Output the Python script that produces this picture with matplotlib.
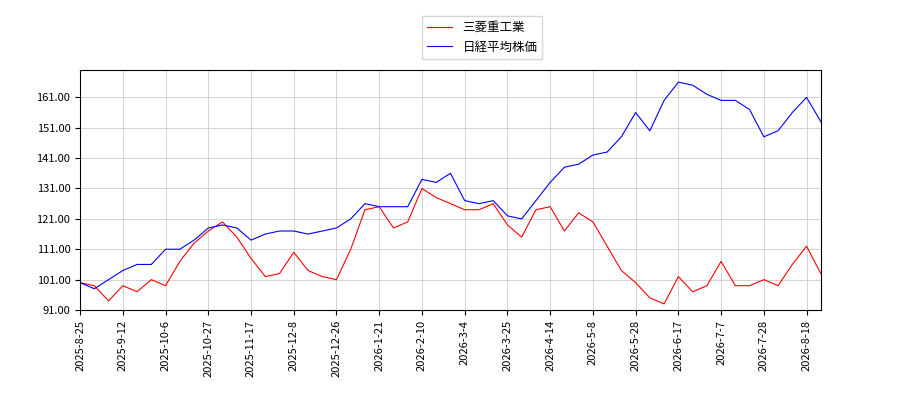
import matplotlib
matplotlib.use("Agg")
import matplotlib.pyplot as plt

plt.rcParams['font.family'] = ['Noto Sans CJK JP', 'DejaVu Sans']

# weekly samples (every 5 trading days)
mhi = [100, 99, 94, 99, 97, 101, 99, 107, 113, 117, 120, 115, 108, 102, 103, 110, 104, 102,
       101, 111, 124, 125, 118, 120, 131, 128, 126, 124, 124, 126, 119, 115, 124, 125, 117,
       123, 120, 112, 104, 100, 95, 93, 102, 97, 99, 107, 99, 99, 101, 99, 106, 112, 103]
nikkei = [100, 98, 101, 104, 106, 106, 111, 111, 114, 118, 119, 118, 114, 116, 117, 117, 116,
          117, 118, 121, 126, 125, 125, 125, 134, 133, 136, 127, 126, 127, 122, 121, 127, 133,
          138, 139, 142, 143, 148, 156, 150, 160, 166, 165, 162, 160, 160, 157, 148, 150, 156,
          161, 153]
tick_labels = ["2025-8-25", "2025-9-12", "2025-10-6", "2025-10-27", "2025-11-17", "2025-12-8",
               "2025-12-26", "2026-1-21", "2026-2-10", "2026-3-4", "2026-3-25", "2026-4-14",
               "2026-5-8", "2026-5-28", "2026-6-17", "2026-7-7", "2026-7-28", "2026-8-18"]

x = [i * 5 for i in range(len(mhi))]

fig = plt.figure(figsize=(9, 4), dpi=100)
ax = fig.add_axes([0.089, 0.225, 0.823, 0.60])
ax.plot(x, mhi, color="red", linewidth=0.8, label="三菱重工業")
ax.plot(x, nikkei, color="blue", linewidth=0.8, label="日経平均株価")
ax.set_xlim(0, 260)
ax.set_ylim(91, 170)
ax.set_yticks([91 + 10 * i for i in range(8)])
ax.set_yticklabels([f"{91 + 10 * i:.2f}" for i in range(8)], fontsize=8)
ax.set_xticks([15 * i for i in range(len(tick_labels))])
ax.set_xticklabels(tick_labels, rotation=90, fontsize=8)
ax.grid(True, color="#cccccc", linewidth=0.6)
fig.legend(loc="upper center", bbox_to_anchor=(0.536, 0.975), fontsize=9, fancybox=False)
fig.savefig("out.png")
